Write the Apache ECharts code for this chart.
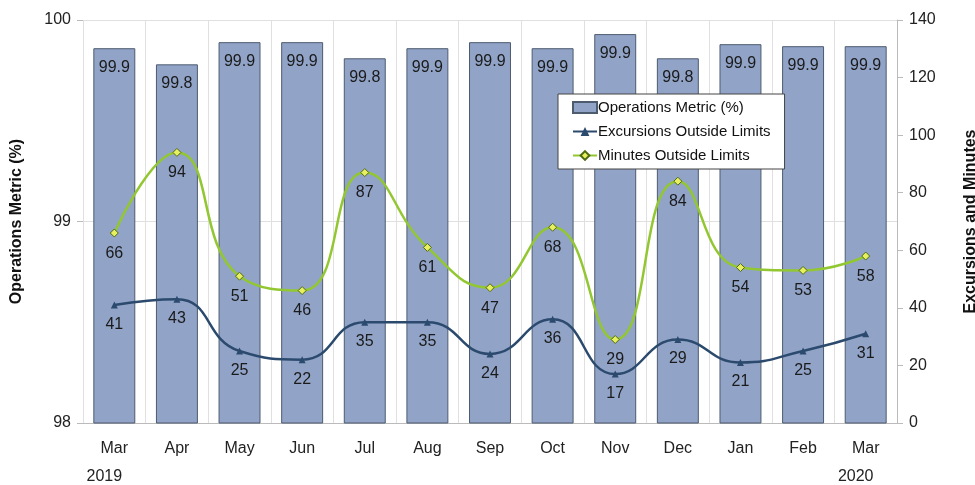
<!DOCTYPE html>
<html lang="en">

<head>
    <meta charset="UTF-8">
    <title>Operations Metric</title>
    <script src="https://cdn.jsdelivr.net/npm/echarts/dist/echarts.min.js"></script>
    <style>
        body { margin: 0; background: #fff; }
        #main { width: 975px; height: 485px; }
    </style>
</head>

<body>
    <div id="main"></div>

    <script>
        // data
        const months = ['Mar', 'Apr', 'May', 'Jun', 'Jul', 'Aug', 'Sep', 'Oct', 'Nov', 'Dec', 'Jan', 'Feb', 'Mar'];
        const years = ['2019', '', '', '', '', '', '', '', '', '', '', '', '2020'];
        const opsMetric = [99.86, 99.78, 99.89, 99.89, 99.81, 99.86, 99.89, 99.86, 99.93, 99.81, 99.88, 99.87, 99.87];
        const excursions = [41, 43, 25, 22, 35, 35, 24, 36, 17, 29, 21, 25, 31];
        const minutes = [66, 94, 51, 46, 87, 61, 47, 68, 29, 84, 54, 53, 58];

        const categories = months.map((m, i) => years[i] ? m + '\n' + years[i] : m);
        const font = 'Liberation Sans, Arial, sans-serif';

        const myChart = echarts.init(document.getElementById('main'));

        const option = {
            animation: false,
            textStyle: { fontFamily: font },
            grid: { left: 83, right: 78, top: 20, bottom: 62, outerBoundsMode: 'none', containLabel: false },
            legend: {
                orient: 'vertical',
                left: 558,
                top: 94,
                padding: [6, 14, 6, 14],
                itemGap: 9,
                itemWidth: 24,
                itemHeight: 11,
                backgroundColor: '#fff',
                borderColor: '#444',
                borderWidth: 1,
                textStyle: { fontSize: 15, color: '#111', padding: [0, 0, 0, -4] },
                data: [
                    { name: 'Operations Metric (%)', icon: 'rect' },
                    'Excursions Outside Limits',
                    'Minutes Outside Limits'
                ]
            },
            xAxis: {
                type: 'category',
                data: categories,
                axisLine: { lineStyle: { color: '#bbb' } },
                axisTick: { length: 6, interval: 0, lineStyle: { color: '#bbb' } },
                splitLine: { show: true, interval: 0, lineStyle: { color: '#e0e0e0' } },
                axisLabel: {
                    interval: 0,
                    fontSize: 16,
                    color: '#222',
                    lineHeight: 28,
                    margin: 12,
                    formatter: function (v) {
                        const parts = v.split('\n');
                        return parts.length > 1 ? parts[0] + '\n{yr|' + parts[1] + '}' : parts[0];
                    },
                    rich: { yr: { fontSize: 16, color: '#222', padding: [0, 20, 0, 0] } }
                }
            },
            yAxis: [{
                type: 'value',
                min: 98,
                max: 100,
                interval: 1,
                name: 'Operations Metric (%)',
                nameLocation: 'middle',
                nameGap: 58,
                nameTextStyle: { fontSize: 16, fontWeight: 'bold', color: '#111' },
                axisLine: { show: false },
                axisTick: { show: true, length: 6, lineStyle: { color: '#bbb' } },
                axisLabel: { fontSize: 16, color: '#222', margin: 12 },
                splitLine: { lineStyle: { color: '#e0e0e0' } }
            }, {
                type: 'value',
                min: 0,
                max: 140,
                interval: 20,
                name: 'Excursions and Minutes',
                nameLocation: 'middle',
                nameGap: 66,
                nameTextStyle: { fontSize: 16, fontWeight: 'bold', color: '#111' },
                axisLine: { show: true, lineStyle: { color: '#bbb' } },
                axisTick: { show: true, length: 6, lineStyle: { color: '#bbb' } },
                axisLabel: { fontSize: 16, color: '#222', margin: 12 },
                splitLine: { show: false }
            }],
            series: [{
                name: 'Operations Metric (%)',
                type: 'bar',
                yAxisIndex: 0,
                data: opsMetric,
                barWidth: '67%',
                itemStyle: { color: '#91a4c8', borderColor: '#4d5b6e', borderWidth: 1 },
                label: {
                    show: true,
                    position: 'insideTop',
                    distance: 11,
                    fontSize: 16,
                    color: '#1a1a1a',
                    formatter: p => p.value.toFixed(1)
                }
            }, {
                name: 'Excursions Outside Limits',
                type: 'line',
                yAxisIndex: 1,
                data: excursions,
                smooth: 0.5,
                symbol: 'triangle',
                symbolSize: 7,
                lineStyle: { color: '#2b4a6e', width: 2.5 },
                itemStyle: { color: '#2b4a6e' },
                label: { show: true, position: 'bottom', distance: 8, fontSize: 16, color: '#1a1a1a' }
            }, {
                name: 'Minutes Outside Limits',
                type: 'line',
                yAxisIndex: 1,
                data: minutes,
                smooth: 0.5,
                symbol: 'diamond',
                symbolSize: 8,
                lineStyle: { color: '#92c731', width: 2.5 },
                itemStyle: { color: '#e8f060', borderColor: '#4e6b10', borderWidth: 1 },
                label: { show: true, position: 'bottom', distance: 8, fontSize: 16, color: '#1a1a1a' }
            }]
        };

        myChart.setOption(option);
    </script>
</body>

</html>
